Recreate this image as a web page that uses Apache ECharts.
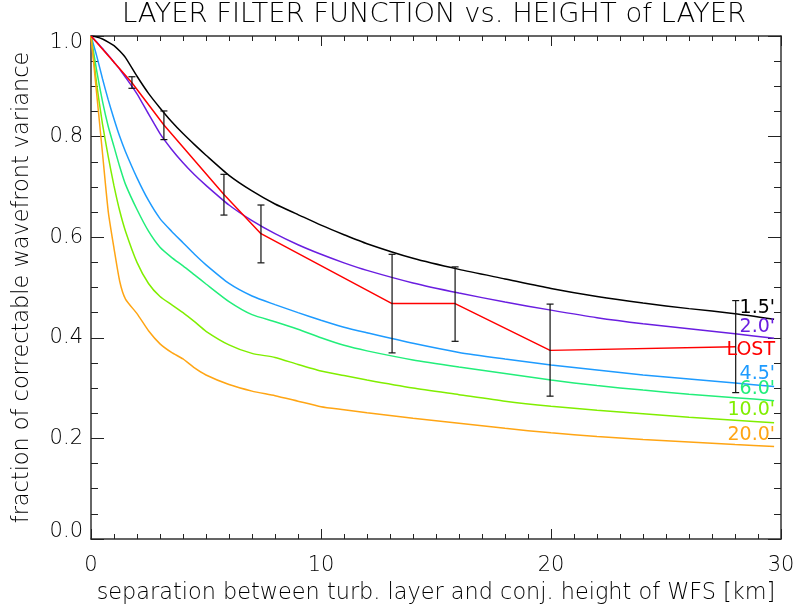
<!DOCTYPE html>
<html>
<head>
<meta charset="utf-8">
<script src="https://cdn.jsdelivr.net/npm/echarts@6/dist/echarts.min.js"></script>
<style>html,body{margin:0;padding:0;background:#fff;}#c{width:796px;height:610px;}</style>
</head>
<body>
<div id="c"></div>
<script>
// separation (km) sample points for the simulated curves
const xKm = [0, 0.25, 0.5, 0.75, 1, 1.25, 1.5, 2, 2.5, 3, 3.5, 4, 4.5, 5, 6, 7, 8, 9, 10, 11, 12, 14, 16, 18, 20, 22, 24, 26, 28, 29.7];
const curve15 = [1.0, 0.998, 0.994, 0.988, 0.981, 0.970, 0.957, 0.920, 0.886, 0.857, 0.830, 0.806, 0.784, 0.763, 0.723, 0.692, 0.666, 0.645, 0.624, 0.605, 0.587, 0.558, 0.536, 0.517, 0.498, 0.482, 0.469, 0.458, 0.448, 0.437];
const curve20 = [1.0, 0.988, 0.975, 0.962, 0.948, 0.934, 0.918, 0.885, 0.845, 0.806, 0.775, 0.748, 0.724, 0.703, 0.664, 0.633, 0.607, 0.585, 0.566, 0.549, 0.534, 0.509, 0.489, 0.471, 0.455, 0.440, 0.428, 0.418, 0.408, 0.399];
const curve45 = [1.0, 0.960, 0.915, 0.873, 0.835, 0.800, 0.770, 0.718, 0.673, 0.637, 0.612, 0.589, 0.566, 0.545, 0.508, 0.483, 0.466, 0.450, 0.435, 0.421, 0.410, 0.389, 0.371, 0.358, 0.346, 0.336, 0.326, 0.318, 0.310, 0.303];
const curve60 = [1.0, 0.930, 0.870, 0.820, 0.780, 0.740, 0.705, 0.655, 0.612, 0.580, 0.560, 0.543, 0.525, 0.507, 0.472, 0.446, 0.432, 0.417, 0.400, 0.385, 0.374, 0.356, 0.342, 0.329, 0.316, 0.305, 0.296, 0.288, 0.281, 0.275];
const curve100 = [1.0, 0.903, 0.825, 0.760, 0.702, 0.652, 0.612, 0.550, 0.508, 0.482, 0.466, 0.450, 0.432, 0.413, 0.386, 0.369, 0.361, 0.347, 0.334, 0.325, 0.316, 0.300, 0.287, 0.274, 0.264, 0.256, 0.249, 0.242, 0.236, 0.231];
const curve200 = [1.0, 0.884, 0.767, 0.651, 0.578, 0.512, 0.477, 0.448, 0.414, 0.388, 0.371, 0.358, 0.340, 0.326, 0.307, 0.294, 0.285, 0.274, 0.263, 0.257, 0.251, 0.240, 0.230, 0.220, 0.211, 0.204, 0.198, 0.193, 0.188, 0.184];

// LOST measurements with error bars
const lostX = [0, 1.78, 3.17, 5.78, 7.39, 13.09, 15.83, 19.96, 28.03];
const lostY = [1.0, 0.907, 0.823, 0.685, 0.607, 0.468, 0.468, 0.375, 0.382];
const lostLow = [null, 0.896, 0.794, 0.644, 0.549, 0.370, 0.393, 0.284, 0.291];
const lostHigh = [null, 0.919, 0.851, 0.725, 0.664, 0.566, 0.541, 0.467, 0.474];

const curveNames = ["1.5'", "2.0'", "4.5'", "6.0'", "10.0'", "20.0'"];
const curveColors = ['#000000', '#6a1ee0', '#1e9bff', '#22ee7a', '#80ee00', '#ffa514'];
const curves = [curve15, curve20, curve45, curve60, curve100, curve200];
const yTicks = [0, 0.2, 0.4, 0.6, 0.8, 1.0];
const xTicks = [0, 10, 20, 30];

const FONT = 'DejaVu Sans';
const chart = echarts.init(document.getElementById('c'), null, {renderer: 'canvas'});

function xAxisDef(pos, showLabel) {
  return {
    type: 'value', position: pos, min: xTicks[0], max: xTicks[xTicks.length - 1], interval: 10,
    axisLine: {show: true, onZero: false, lineStyle: {color: '#333', width: 1.5}},
    axisTick: {show: true, inside: true, length: 10, lineStyle: {color: '#222', width: 1}},
    minorTick: {show: true, splitNumber: 10, length: 5, lineStyle: {color: '#222', width: 1}},
    splitLine: {show: false}, minorSplitLine: {show: false},
    axisLabel: {show: showLabel, color: '#000', fontFamily: FONT, fontSize: 21, margin: 16, fontWeight: 'lighter'},
    name: showLabel ? 'separation between turb. layer and conj. height of WFS [km]' : '',
    nameLocation: 'middle', nameGap: 43,
    nameTextStyle: {color: '#000', fontFamily: FONT, fontSize: 22.4, fontWeight: 'lighter'}
  };
}
function yAxisDef(pos, showLabel) {
  return {
    type: 'value', position: pos, min: yTicks[0], max: yTicks[yTicks.length - 1], interval: 0.2,
    axisLine: {show: true, onZero: false, lineStyle: {color: '#333', width: 1.5}},
    axisTick: {show: true, inside: true, length: 13, lineStyle: {color: '#222', width: 1}},
    minorTick: {show: true, splitNumber: 4, length: 7, lineStyle: {color: '#222', width: 1}},
    splitLine: {show: false}, minorSplitLine: {show: false},
    axisLabel: {show: showLabel, color: '#000', fontFamily: FONT, fontSize: 21, margin: 8, fontWeight: 'lighter',
      lineHeight: 14, verticalAlignMinLabel: 'bottom', verticalAlignMaxLabel: 'top',
      formatter: v => v.toFixed(1)},
    name: showLabel ? 'fraction of correctable wavefront variance' : '',
    nameLocation: 'middle', nameGap: 58,
    nameTextStyle: {color: '#000', fontFamily: FONT, fontSize: 22.4, fontWeight: 'lighter'}
  };
}

const series = curves.map((c, i) => ({
  type: 'line', name: curveNames[i], xAxisIndex: 0, yAxisIndex: 0,
  data: xKm.map((x, j) => [x, c[j]]),
  showSymbol: false, smooth: 0.2,
  lineStyle: {color: curveColors[i], width: 1.5}, z: 3
}));
series.push({
  type: 'line', name: 'LOST', data: lostX.map((x, j) => [x, lostY[j]]),
  showSymbol: false, lineStyle: {color: '#ff0000', width: 1.5}, z: 4
});
series.push({
  type: 'custom', name: 'err', z: 5,
  data: lostX.map((x, j) => [x, lostLow[j], lostHigh[j]]).filter(d => d[1] !== null),
  renderItem: function (params, api) {
    const x = api.value(0);
    const lo = api.coord([x, api.value(1)]);
    const hi = api.coord([x, api.value(2)]);
    const w = 3.5;
    const st = {stroke: '#111', lineWidth: 1.2};
    return {type: 'group', children: [
      {type: 'line', shape: {x1: lo[0], y1: lo[1], x2: hi[0], y2: hi[1]}, style: st},
      {type: 'line', shape: {x1: lo[0] - w, y1: lo[1], x2: lo[0] + w, y2: lo[1]}, style: st},
      {type: 'line', shape: {x1: hi[0] - w, y1: hi[1], x2: hi[0] + w, y2: hi[1]}, style: st}
    ]};
  }
});

const labelTexts = ["1.5'", "2.0'", 'LOST', "4.5'", "6.0'", "10.0'", "20.0'"];
const labelColors = ['#000000', '#6a1ee0', '#ff0000', '#1e9bff', '#22ee7a', '#80ee00', '#ffa514'];
const labelY = [308, 327, 350, 374, 389, 410, 435];

chart.setOption({
  backgroundColor: '#fff',
  animation: false,
  grid: {left: 91, right: 15, top: 36, bottom: 71, containLabel: false, outerBoundsMode: 'none'},
  xAxis: [xAxisDef('bottom', true), xAxisDef('top', false)],
  yAxis: [yAxisDef('left', true), yAxisDef('right', false)],
  series: series,
  graphic: [
    {type: 'text', style: {text: 'LAYER FILTER FUNCTION vs. HEIGHT of LAYER', x: 434, y: 15, textAlign: 'center', textVerticalAlign: 'middle', font: 'lighter 27.4px "DejaVu Sans"', fill: '#000'}}
  ].concat(labelTexts.map((t, i) => ({
    type: 'text', z: 10,
    style: {text: t, x: 775, y: labelY[i], textAlign: 'right', textVerticalAlign: 'middle',
      font: '19px "DejaVu Sans"', fill: labelColors[i]}
  })))
});
</script>
</body>
</html>
